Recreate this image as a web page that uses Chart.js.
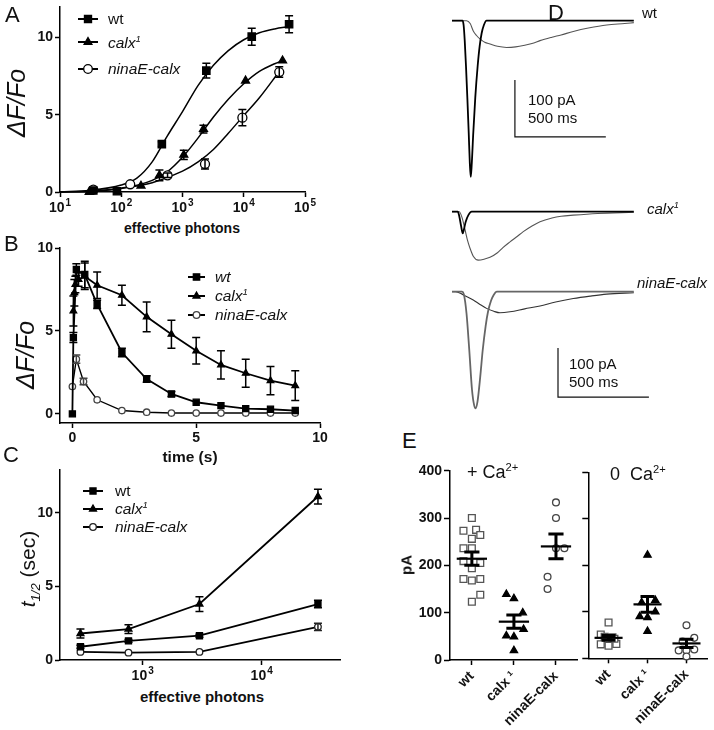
<!DOCTYPE html>
<html>
<head>
<meta charset="utf-8">
<script src="https://cdn.jsdelivr.net/npm/chart.js@4.4.1/dist/chart.umd.min.js"></script>
<style>
html, body { margin: 0; padding: 0; background: #fff; }
#fig { position: relative; width: 714px; height: 730px; overflow: hidden; background: #fff;
       font-family: Arial, "Liberation Sans", Helvetica, sans-serif; color: #111; }
#fig canvas { position: absolute; }
.t { position: absolute; white-space: nowrap; line-height: 1; transform: translateY(-50%); }
.c { transform: translate(-50%, -50%); }
.r { transform: translate(-50%, -50%) rotate(-90deg); }
.i { font-style: italic; }
.b { font-weight: bold; }
.sup { font-size: 0.62em; position: relative; top: -0.6em; }
.sub { font-size: 0.62em; position: relative; top: 0.35em; }
.lt { font-size: 22px; }
.lg { font-size: 15.5px; }
</style>
</head>
<body>
<div id="fig">
  <canvas id="chA"></canvas>
  <canvas id="chB"></canvas>
  <canvas id="chC"></canvas>
  <canvas id="chDwt"></canvas>
  <canvas id="chDcalx"></canvas>
  <canvas id="chDnina"></canvas>
  <canvas id="chEplus"></canvas>
  <canvas id="chEzero"></canvas>

  <!-- panel letters -->
  <div class="t lt" style="left:5px;top:15px">A</div>
  <div class="t lt" style="left:4px;top:244px">B</div>
  <div class="t lt" style="left:3px;top:455px">C</div>
  <div class="t lt" style="left:548px;top:13px">D</div>
  <div class="t lt" style="left:402px;top:441px">E</div>

  <!-- A -->
  <div class="t r i" style="left:16px;top:103px;font-size:25px">ΔF/Fo</div>
  <div class="t c b" style="left:182px;top:228px;font-size:14px">effective photons</div>
  <div class="t lg" style="left:108px;top:19px">wt</div>
  <div class="t lg i" style="left:108px;top:43px">calx<span class="sup">1</span></div>
  <div class="t lg i" style="left:108px;top:69px">ninaE-calx</div>

  <!-- B -->
  <div class="t r i" style="left:25px;top:355px;font-size:25px">ΔF/Fo</div>
  <div class="t c b" style="left:190px;top:457px;font-size:15.5px">time (s)</div>
  <div class="t lg i" style="left:215px;top:277px">wt</div>
  <div class="t lg i" style="left:215px;top:296px">calx<span class="sup">1</span></div>
  <div class="t lg i" style="left:215px;top:315px">ninaE-calx</div>

  <!-- C -->
  <div class="t r" style="left:27px;top:569px;font-size:21px"><span class="i">t</span><span class="sub i">1/2</span> (sec)</div>
  <div class="t c b" style="left:202px;top:696px;font-size:15px">effective photons</div>
  <div class="t lg" style="left:115px;top:491px">wt</div>
  <div class="t lg i" style="left:115px;top:509px">calx<span class="sup">1</span></div>
  <div class="t lg i" style="left:115px;top:527px">ninaE-calx</div>

  <!-- D -->
  <div class="t" style="left:642px;top:12px;font-size:15px">wt</div>
  <div class="t i" style="left:647px;top:209px;font-size:15px">calx<span class="sup">1</span></div>
  <div class="t i" style="left:637px;top:282px;font-size:15px">ninaE-calx</div>
  <div class="t" style="left:528px;top:99px;font-size:15px">100 pA</div>
  <div class="t" style="left:528px;top:117px;font-size:15px">500 ms</div>
  <div class="t" style="left:569px;top:363px;font-size:15px">100 pA</div>
  <div class="t" style="left:569px;top:381px;font-size:15px">500 ms</div>

  <!-- E -->
  <div class="t r b" style="left:406px;top:565px;font-size:15px">pA</div>
  <div class="t" style="left:467px;top:472px;font-size:18px">+ Ca<span class="sup">2+</span></div>
  <div class="t" style="left:610px;top:474px;font-size:18px">0&nbsp;&nbsp;Ca<span class="sup">2+</span></div>
</div>

<script>
const FONT = 'Arial, "Liberation Sans", Helvetica, sans-serif';

// ---- A: response vs. effective photons ----
const aXTicks = [10, 100, 1000, 10000, 100000];
const aXExp = ['1', '2', '3', '4', '5'];
const aYTicks = [0, 5, 10];
const aWtX = [35, 85, 460, 2450, 13500, 55000];
const aWt = [0.1, 0.05, 3.1, 7.85, 10.05, 10.85];
const aWtErr = [0, 0, 0.15, 0.48, 0.55, 0.55];
const aCalxX = [30, 210, 420, 1050, 2200, 10700, 43000];
const aCalx = [0, 0.4, 1.08, 2.4, 4.07, 7.2, 8.5];
const aCalxErr = [0, 0, 0.35, 0.3, 0.25, 0, 0];
const aNinaX = [35, 140, 570, 2330, 9500, 38000];
const aNina = [0.15, 0.5, 1.08, 1.81, 4.81, 7.76];
const aNinaErr = [0, 0, 0.15, 0.32, 0.53, 0.34];
// fitted curves
const aWtFitX = [10, 30, 100, 180, 320, 560, 1000, 1800, 3200, 5600, 10000, 18000, 32000, 55000];
const aWtFit = [0.02, 0.1, 0.45, 0.9, 1.95, 3.6, 5.2, 6.9, 8.2, 9.15, 9.85, 10.3, 10.55, 10.7];
const aCalxFitX = [10, 30, 100, 320, 560, 1000, 1800, 3200, 5600, 10000, 18000, 32000, 43000];
const aCalxFit = [0, 0.04, 0.22, 0.75, 1.3, 2.25, 3.5, 4.85, 6.0, 7.0, 7.8, 8.3, 8.5];
const aNinaFitX = [10, 30, 100, 320, 1000, 1800, 3200, 5600, 10000, 18000, 38000];
const aNinaFit = [0, 0.05, 0.25, 0.6, 1.35, 1.95, 2.75, 3.8, 4.95, 6.1, 7.8];

// ---- B: time course ----
const bXTicks = [0, 5, 10];
const bYTicks = [0, 5, 10];
const bWtT = [0, 0.04, 0.16, 0.5, 1, 2, 3, 4, 5, 6, 7, 8, 9];
const bWt = [0, 4.6, 8.7, 8.4, 6.6, 3.7, 2.1, 1.2, 0.7, 0.5, 0.32, 0.28, 0.2];
const bWtErr = [0, 0.3, 0.35, 0.8, 0.25, 0.25, 0.2, 0.15, 0, 0, 0, 0, 0];
const bCalxT = [0.04, 0.08, 0.12, 0.25, 0.5, 1, 2, 3, 4, 5, 6, 7, 8, 9];
const bCalx = [6.2, 7.3, 7.8, 8.1, 8.3, 7.75, 7.15, 5.85, 4.8, 3.8, 2.95, 2.45, 2.0, 1.7];
const bCalxErr = [0.9, 0.8, 0.5, 0.4, 0.8, 0.8, 0.6, 0.9, 0.85, 0.8, 0.85, 0.85, 0.85, 0.9];
const bNinaT = [0, 0.16, 0.45, 1, 2, 3, 4, 5, 6, 7, 8, 9];
const bNina = [1.65, 3.3, 1.95, 0.85, 0.2, 0.1, 0.05, 0.05, 0.05, 0.05, 0.05, 0.05];
const bNinaErr = [0, 0.25, 0.2, 0, 0, 0, 0, 0, 0, 0, 0, 0];

// ---- C: half time vs. effective photons ----
const cXTicks = [1000, 10000];
const cXExp = ['3', '4'];
const cYTicks = [0, 5, 10];
const cPhotons = [300, 760, 3000, 29700];
const cWt = [0.9, 1.3, 1.65, 3.8];
const cWtErr = [0.1, 0.1, 0.1, 0.25];
const cCalx = [1.8, 2.1, 3.8, 11.1];
const cCalxErr = [0.3, 0.3, 0.5, 0.5];
const cNina = [0.55, 0.5, 0.55, 2.25];
const cNinaErr = [0, 0, 0, 0.25];

// ---- D: current traces (ms, pA) ----
const dWtFastT = [0, 58, 64, 70, 77, 85, 92, 98, 103, 108, 117, 128, 141, 152, 163, 175, 190, 1000];
const dWtFast = [0, 0, -8, -35, -80, -140, -197, -250, -274, -255, -197, -135, -80, -45, -22, -8, 0, 0];
const dWtSlowT = [0, 80, 100, 117, 135, 154, 180, 209, 250, 300, 350, 400, 450, 484, 550, 600, 667, 750, 851, 950, 1000];
const dWtSlow = [0, 0, -5, -18, -26, -32, -38, -41, -45, -47, -46, -43, -39, -35, -29, -25, -19, -13, -7.5, -5, -3.5];
const dCalxFastT = [0, 32, 40, 50, 59, 65, 75, 90, 108, 1000];
const dCalxFast = [0, 0, -8, -25, -38, -32, -18, -6, 0, 0];
const dCalxSlowT = [0, 40, 55, 72, 85, 99, 117, 145, 180, 209, 250, 280, 319, 360, 392, 440, 484, 550, 600, 667, 800, 1000];
const dCalxSlow = [0, 0, -10, -32, -50, -64, -78, -85, -83, -80, -72, -63, -53, -43, -35, -25, -17.5, -11, -8, -6, -3, -1];
const dNinaFastT = [0, 55, 65, 80, 95, 110, 122, 130, 140, 155, 169, 185, 198, 215, 230, 246, 1000];
const dNinaFast = [0, 0, -5, -45, -119, -200, -232, -238, -225, -175, -119, -70, -41, -18, -6, 0, 0];
const dNinaSlowT = [0, 20, 60, 117, 150, 190, 230, 264, 319, 400, 484, 570, 667, 760, 851, 1000];
const dNinaSlow = [0, 0, -6, -17, -25, -34, -40, -43, -41, -35, -29, -21, -14, -9, -5, -2];

// ---- E: peak currents ----
const eGroups = ['wt', 'calx ¹', 'ninaE-calx'];
const eYTicks = [0, 100, 200, 300, 400];
const ePlusWt = [300, 273, 275, 256, 264, 236, 236, 209, 205, 194, 171, 168, 171, 123, 138];
const ePlusWtJit = [0, -0.2, 0.1, 0, 0.2, -0.2, 0, -0.2, 0.2, 0, -0.2, 0, 0.2, 0, 0.2];
const ePlusCalx = [139, 130, 100, 65, 51, 49, 20];
const ePlusCalxJit = [-0.18, 0, 0.21, 0.23, -0.18, 0, 0];
const ePlusNina = [333, 300, 236, 236, 176, 150];
const ePlusNinaJit = [0, 0, 0, 0.2, -0.2, -0.2];
const ePlusMean = [214, 81, 240];
const ePlusSem = [14, 14, 26];
const eZeroWt = [77, 51, 30, 27, 31, 45, 46, 42];
const eZeroWtJit = [0, -0.2, -0.2, 0, 0.2, 0.1, -0.1, 0.15];
const eZeroCalx = [222, 125, 120, 90, 88, 100, 58];
const eZeroCalxJit = [0, 0.2, -0.15, -0.2, 0, 0.2, 0];
const eZeroNina = [71, 44, 17, 17, 19, 4, 36];
const eZeroNinaJit = [0, 0.2, -0.2, 0, 0.2, 0, -0.1];
const eZeroMean = [44, 116, 32];
const eZeroSem = [5, 17, 9];

// ---------- plugins ----------
function marker(ctx, style, x, y, r, fill, stroke, lw) {
  ctx.beginPath();
  if (style === 'rect') {
    const s = r * Math.SQRT1_2;
    ctx.rect(x - s, y - s, 2 * s, 2 * s);
  } else if (style === 'triangle') {
    ctx.moveTo(x, y - r);
    ctx.lineTo(x + 0.866 * r, y + 0.5 * r);
    ctx.lineTo(x - 0.866 * r, y + 0.5 * r);
    ctx.closePath();
  } else {
    ctx.arc(x, y, r, 0, Math.PI * 2);
  }
  ctx.fillStyle = fill; ctx.fill();
  ctx.lineWidth = lw; ctx.strokeStyle = stroke; ctx.stroke();
}

const errBars = {
  id: 'errBars',
  afterDatasetsDraw(chart) {
    const ctx = chart.ctx;
    chart.data.datasets.forEach((ds, i) => {
      if (!ds.errors) return;
      const meta = chart.getDatasetMeta(i);
      const xs = chart.scales[meta.xAxisID], ys = chart.scales[meta.yAxisID];
      ctx.save();
      ctx.strokeStyle = ds.pointBorderColor || '#000';
      ctx.lineWidth = 1.5;
      ds.data.forEach((p, j) => {
        const e = ds.errors[j];
        if (!e) return;
        const x = xs.getPixelForValue(p.x);
        const yt = ys.getPixelForValue(p.y + e), yb = ys.getPixelForValue(p.y - e);
        ctx.beginPath();
        ctx.moveTo(x, yt); ctx.lineTo(x, yb);
        ctx.moveTo(x - 4, yt); ctx.lineTo(x + 4, yt);
        ctx.moveTo(x - 4, yb); ctx.lineTo(x + 4, yb);
        ctx.stroke();
      });
      ctx.restore();
    });
  }
};

// legend rows: line with the series marker, in page coordinates
const symLegend = {
  id: 'symLegend',
  afterDraw(chart, args, o) {
    if (!o || !o.rows) return;
    const ctx = chart.ctx, ox = chart.canvas.offsetLeft, oy = chart.canvas.offsetTop;
    ctx.save();
    o.rows.forEach(r => {
      ctx.strokeStyle = '#000'; ctx.lineWidth = 2;
      ctx.beginPath(); ctx.moveTo(o.x0 - ox, r.y - oy); ctx.lineTo(o.x1 - ox, r.y - oy); ctx.stroke();
      marker(ctx, r.style, (o.x0 + o.x1) / 2 - ox, r.y - oy, r.r, r.fill, r.stroke, 1.3);
    });
    ctx.restore();
  }
};

// "10" with a raised exponent under each tick of a log x axis
const powLabels = {
  id: 'powLabels',
  afterDraw(chart, args, o) {
    if (!o || !o.exps) return;
    const xs = chart.scales.x, ctx = chart.ctx;
    const base = xs.top + 20;
    ctx.save();
    ctx.fillStyle = '#111';
    ctx.textBaseline = 'alphabetic';
    xs.ticks.forEach((t, i) => {
      const x = xs.getPixelForValue(t.value);
      ctx.font = 'bold 14px ' + FONT;
      const w1 = ctx.measureText('10').width;
      ctx.font = 'bold 10px ' + FONT;
      const w2 = ctx.measureText(o.exps[i]).width;
      const x0 = x - (w1 + w2 + 1) / 2;
      ctx.font = 'bold 14px ' + FONT;
      ctx.fillText('10', x0, base);
      ctx.font = 'bold 10px ' + FONT;
      ctx.fillText(o.exps[i], x0 + w1 + 1, base - 6);
    });
    ctx.restore();
  }
};

const scaleBar = {
  id: 'scaleBar',
  afterDraw(chart, args, o) {
    if (!o || o.t0 === undefined) return;
    const xs = chart.scales.x, ys = chart.scales.y, ctx = chart.ctx;
    const x0 = xs.getPixelForValue(o.t0), x1 = xs.getPixelForValue(o.t0 + o.dt);
    const y0 = ys.getPixelForValue(o.i0), y1 = ys.getPixelForValue(o.i0 + o.di);
    ctx.save();
    ctx.strokeStyle = '#111'; ctx.lineWidth = 1.2;
    ctx.beginPath(); ctx.moveTo(x0, y1); ctx.lineTo(x0, y0); ctx.lineTo(x1, y0); ctx.stroke();
    ctx.restore();
  }
};

const meanSem = {
  id: 'meanSem',
  afterDatasetsDraw(chart, args, o) {
    if (!o || !o.mean) return;
    const xs = chart.scales.x, ys = chart.scales.y, ctx = chart.ctx;
    const px = v => xs.getPixelForValue(v);
    ctx.save();
    ctx.strokeStyle = '#000';
    o.mean.forEach((m, i) => {
      const s = o.sem[i];
      const ym = ys.getPixelForValue(m), yt = ys.getPixelForValue(m + s), yb = ys.getPixelForValue(m - s);
      ctx.lineWidth = 2.2;
      ctx.beginPath(); ctx.moveTo(px(i - 0.36), ym); ctx.lineTo(px(i + 0.36), ym); ctx.stroke();
      ctx.lineWidth = 3;
      ctx.beginPath();
      ctx.moveTo(px(i), yt); ctx.lineTo(px(i), yb);
      ctx.moveTo(px(i - 0.18), yt); ctx.lineTo(px(i + 0.18), yt);
      ctx.moveTo(px(i - 0.18), yb); ctx.lineTo(px(i + 0.18), yb);
      ctx.stroke();
    });
    ctx.restore();
  }
};

Chart.register(errBars, symLegend, powLabels, scaleBar, meanSem);
Chart.defaults.font.family = FONT;

// ---------- helpers ----------
const pts = (xs, ys) => xs.map((x, i) => ({x: x, y: ys[i]}));
const jit = (idx, js, ys) => ys.map((y, i) => ({x: idx + js[i], y: y}));

function axis(type, min, max, ticks, labels, size, more) {
  const a = {
    type: type, min: min, max: max,
    border: {color: '#000', width: 1.5},
    grid: {drawOnChartArea: false, color: '#000', tickLength: 5, tickWidth: 1.5},
    ticks: {
      autoSkip: false, color: '#111', padding: 2,
      font: {family: FONT, size: 14, weight: 'bold'},
      callback: (v, i) => labels ? labels[i] : ''
    },
    afterBuildTicks: s => { s.ticks = ticks.map(v => ({value: v})); },
    afterFit: s => {
      if (s.isHorizontal()) s.height = size; else s.width = size;
      s.paddingLeft = s.paddingRight = s.paddingTop = s.paddingBottom = 0;
    }
  };
  if (more) {
    for (const k in more) a[k] = (typeof more[k] === 'object') ? Object.assign({}, a[k], more[k]) : more[k];
  }
  return a;
}

function hidden(min, max) {
  return {type: 'linear', display: false, min: min, max: max};
}

function marks(data, style, r, fill, stroke, errs) {
  return {data: data, showLine: false, pointStyle: style, pointRadius: r, pointHoverRadius: r,
    pointBackgroundColor: fill, pointBorderColor: stroke, pointBorderWidth: 1.3, errors: errs, clip: false};
}

function series(data, style, r, fill, stroke, lw, errs) {
  return {data: data, showLine: true, borderColor: '#000', borderWidth: lw, tension: 0,
    pointStyle: style, pointRadius: r, pointHoverRadius: r, pointBackgroundColor: fill,
    pointBorderColor: stroke, pointBorderWidth: 1.3, errors: errs, clip: false};
}

function curve(data, color, lw, smooth) {
  return {data: data, showLine: true, pointRadius: 0, borderColor: color, borderWidth: lw,
    cubicInterpolationMode: smooth ? 'monotone' : 'default', tension: 0, clip: false};
}

// rect = canvas [left, top, w, h]; area = plot [left, top, right, bottom] in page px
function build(id, rect, area, yw, xh, datasets, scales, plugins) {
  const cv = document.getElementById(id);
  cv.width = rect[2]; cv.height = rect[3];
  cv.style.left = rect[0] + 'px'; cv.style.top = rect[1] + 'px';
  return new Chart(cv, {
    type: 'scatter',
    data: {datasets: datasets},
    options: {
      responsive: false, animation: false, devicePixelRatio: 1,
      layout: {padding: {
        left: area[0] - yw - rect[0], top: area[1] - rect[1],
        right: rect[0] + rect[2] - area[2], bottom: rect[1] + rect[3] - area[3] - xh
      }},
      scales: scales,
      plugins: Object.assign({legend: {display: false}, tooltip: {enabled: false}}, plugins || {})
    }
  });
}

const num = a => a.map(String);

// ---------- A ----------
build('chA', [5, 0, 320, 216], [60, 3, 305, 192], 50, 24, [
  marks(pts(aWtX, aWt), 'rect', 5.2, '#000', '#000', aWtErr),
  marks(pts(aCalxX, aCalx), 'triangle', 4.6, '#000', '#000', aCalxErr),
  marks(pts(aNinaX, aNina), 'circle', 4.5, '#fff', '#000', aNinaErr),
  curve(pts(aWtFitX, aWtFit), '#000', 1.5, true),
  curve(pts(aCalxFitX, aCalxFit), '#000', 1.5, true),
  curve(pts(aNinaFitX, aNinaFit), '#000', 1.5, true)
], {
  x: axis('logarithmic', 10, 100000, aXTicks, null, 24, {ticks: {display: false}}),
  y: axis('linear', 0, 12, aYTicks, num(aYTicks), 50)
}, {
  powLabels: {exps: aXExp},
  symLegend: {x0: 78, x1: 98, rows: [
    {y: 19, style: 'rect', r: 5, fill: '#000', stroke: '#000'},
    {y: 42, style: 'triangle', r: 4.5, fill: '#000', stroke: '#000'},
    {y: 69, style: 'circle', r: 4.3, fill: '#fff', stroke: '#000'}
  ]}
});

// ---------- B ----------
build('chB', [5, 238, 327, 209], [60, 248, 320, 423], 50, 22, [
  series(pts(bWtT, bWt), 'rect', 4.3, '#000', '#000', 1.8, bWtErr),
  series(pts(bCalxT, bCalx), 'triangle', 3.8, '#000', '#000', 1.8, bCalxErr),
  series(pts(bNinaT, bNina), 'circle', 3.2, '#fff', '#444', 1.4, bNinaErr)
], {
  x: axis('linear', -0.5, 10, bXTicks, num(bXTicks), 22),
  y: axis('linear', -0.55, 10, bYTicks, num(bYTicks), 50)
}, {
  symLegend: {x0: 188, x1: 205, rows: [
    {y: 277, style: 'rect', r: 4.5, fill: '#000', stroke: '#000'},
    {y: 296, style: 'triangle', r: 4, fill: '#000', stroke: '#000'},
    {y: 315, style: 'circle', r: 3.3, fill: '#fff', stroke: '#444'}
  ]}
});

// ---------- C ----------
build('chC', [5, 462, 342, 224], [60, 470, 340, 660], 50, 24, [
  series(pts(cPhotons, cWt), 'rect', 4.3, '#000', '#000', 1.8, cWtErr),
  series(pts(cPhotons, cCalx), 'triangle', 4, '#000', '#000', 1.8, cCalxErr),
  series(pts(cPhotons, cNina), 'circle', 3.3, '#fff', '#222', 1.6, cNinaErr)
], {
  x: axis('logarithmic', 202, 45500, cXTicks, null, 24, {ticks: {display: false}}),
  y: axis('linear', 0, 12.9, cYTicks, num(cYTicks), 50)
}, {
  powLabels: {exps: cXExp},
  symLegend: {x0: 83, x1: 103, rows: [
    {y: 491, style: 'rect', r: 4.3, fill: '#000', stroke: '#000'},
    {y: 509, style: 'triangle', r: 4, fill: '#000', stroke: '#000'},
    {y: 527, style: 'circle', r: 3.3, fill: '#fff', stroke: '#222'}
  ]}
});

// ---------- D ----------
build('chDwt', [452, 5, 200, 195], [452, 5, 652, 200], 0, 0, [
  curve(pts(dWtFastT, dWtFast), '#000', 1.8, true),
  curve(pts(dWtSlowT, dWtSlow), '#555', 1.1, true)
], {x: hidden(0, 1100), y: hidden(-314.6, 27.5)}, {
  scaleBar: {t0: 346, dt: 500, i0: -204, di: 100}
});
build('chDcalx', [452, 190, 200, 90], [452, 190, 652, 280], 0, 0, [
  curve(pts(dCalxFastT, dCalxFast), '#000', 1.8, true),
  curve(pts(dCalxSlowT, dCalxSlow), '#555', 1.1, true)
], {x: hidden(0, 1100), y: hidden(-119.8, 38.1)});
build('chDnina', [452, 270, 200, 150], [452, 270, 652, 420], 0, 0, [
  curve(pts(dNinaFastT, dNinaFast), '#666', 1.8, true),
  curve(pts(dNinaSlowT, dNinaSlow), '#333', 1.1, true)
], {x: hidden(0, 1100), y: hidden(-261.8, 44.3)}, {
  scaleBar: {t0: 583, dt: 500, i0: -215, di: 100}
});

// ---------- E ----------
const eX = () => ({
  minRotation: 45, maxRotation: 45, padding: 3, font: {family: FONT, size: 14, weight: 'bold'}
});
build('chEplus', [395, 462, 190, 268], [450, 470.7, 577, 660], 50, 66, [
  marks(jit(0, ePlusWtJit, ePlusWt), 'rect', 4.8, '#fff', '#555'),
  marks(jit(1, ePlusCalxJit, ePlusCalx), 'triangle', 4.2, '#000', '#000'),
  marks(jit(2, ePlusNinaJit, ePlusNina), 'circle', 3.4, '#fff', '#444')
], {
  x: axis('linear', -0.52, 2.5, [0, 1, 2], eGroups, 66, {ticks: eX()}),
  y: axis('linear', 0, 400, eYTicks, num(eYTicks), 50, {grid: {tickLength: 6}})
}, {
  meanSem: {mean: ePlusMean, sem: ePlusSem}
});
build('chEzero', [578, 464, 136, 266], [588.3, 472.3, 713, 658.3], 8, 66, [
  marks(jit(0, eZeroWtJit, eZeroWt), 'rect', 4.8, '#fff', '#555'),
  marks(jit(1, eZeroCalxJit, eZeroCalx), 'triangle', 4.2, '#000', '#000'),
  marks(jit(2, eZeroNinaJit, eZeroNina), 'circle', 3.4, '#fff', '#444')
], {
  x: axis('linear', -0.52, 2.55, [0, 1, 2], eGroups, 66, {ticks: eX()}),
  y: axis('linear', 0, 400, eYTicks, num(eYTicks), 8, {grid: {tickLength: 6}, ticks: {display: false}})
}, {
  meanSem: {mean: eZeroMean, sem: eZeroSem}
});
</script>
</body>
</html>
